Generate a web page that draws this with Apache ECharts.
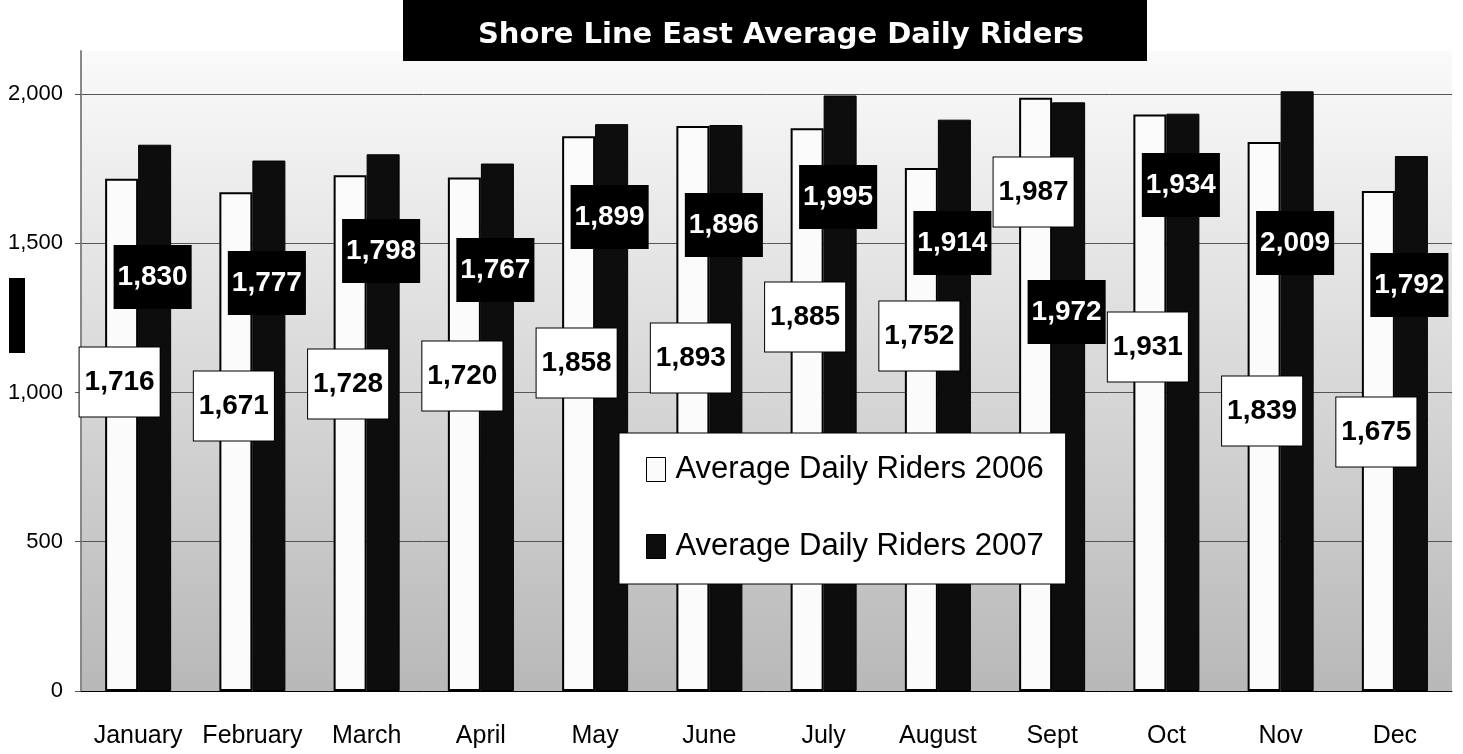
<!DOCTYPE html>
<html>
<head>
<meta charset="utf-8">
<title>Shore Line East Average Daily Riders</title>
<script src="https://cdn.jsdelivr.net/npm/echarts@6/dist/echarts.min.js"></script>
<style>
    html, body { margin: 0; padding: 0; background: #fff; }
    #main { width: 1463px; height: 754px; }
</style>
</head>
<body>
<div id="main"></div>
<script>
// 月份 (x轴)
var months = ['January', 'February', 'March', 'April', 'May', 'June', 'July', 'August', 'Sept', 'Oct', 'Nov', 'Dec'];
// series names
var seriesNames = ['Average Daily Riders 2006', 'Average Daily Riders 2007'];
// average daily riders per month
var riders2006 = [1716, 1671, 1728, 1720, 1858, 1893, 1885, 1752, 1987, 1931, 1839, 1675];
var riders2007 = [1830, 1777, 1798, 1767, 1899, 1896, 1995, 1914, 1972, 1934, 2009, 1792];
// y轴刻度
var yTicks = [0, 500, 1000, 1500, 2000];

// the value boxes were dragged around by hand in the original, keep their centre (px)
var labelY2006 = [382, 406, 384, 376, 363, 358, 317, 336, 192, 347, 411, 432];
var labelY2007 = [277, 283, 251, 270, 217, 225, 197, 243, 312, 185, 243, 285];

var sans = "'Liberation Sans', Arial, sans-serif";

window.onload = function () {
    var myChart = echarts.init(document.getElementById('main'));

    var option = {
        animation: false,
        backgroundColor: '#fff',
        title: {
            text: 'Shore Line East Average Daily Riders',
            left: 776,
            top: 16,
            textAlign: 'center',
            textStyle: {
                color: '#fff',
                fontFamily: "'DejaVu Sans', sans-serif",
                fontWeight: 'bold',
                fontSize: 29
            }
        },
        graphic: [
            {   // 标题黑框
                type: 'rect', left: 403, top: 0, z: 1,
                shape: { width: 744, height: 61 },
                style: { fill: '#000' }
            },
            {   // y轴名称黑块
                type: 'rect', left: 9, top: 278, z: 1,
                shape: { width: 16, height: 75 },
                style: { fill: '#000' }
            }
        ],
        legend: {
            orient: 'vertical',
            left: 619,
            top: 433,
            padding: [21, 22, 22, 27],
            itemGap: 46,
            itemWidth: 19,
            itemHeight: 24,
            icon: 'rect',
            backgroundColor: '#fff',
            borderColor: '#000',
            borderWidth: 1,
            itemStyle: { borderWidth: 1, borderColor: '#000' },
            textStyle: { fontFamily: sans, fontSize: 31, color: '#000', padding: [0, 0, 0, 5] },
            data: seriesNames
        },
        grid: {
            left: 81,
            right: 11,
            top: 51,
            bottom: 63,
            containLabel: false,
            outerBoundsMode: 'none',
            show: true,
            borderWidth: 0,
            backgroundColor: new echarts.graphic.LinearGradient(0, 0, 0, 1, [
                { offset: 0, color: '#fafafa' },
                { offset: 1, color: '#b8b8b8' }
            ])
        },
        xAxis: {
            type: 'category',
            data: months,
            axisLine: { lineStyle: { color: '#000', width: 1 } },
            axisTick: { length: 11, lineStyle: { color: '#555' } },
            axisLabel: { interval: 0, fontFamily: sans, fontSize: 25, color: '#000', margin: 33 }
        },
        yAxis: {
            type: 'value',
            min: 0,
            max: 2144,
            interval: 500,
            axisLine: { show: true, lineStyle: { color: '#888', width: 2 } },
            axisTick: { show: true, length: 6, lineStyle: { color: '#555' } },
            axisLabel: {
                fontFamily: sans, fontSize: 22, color: '#000', margin: 18,
                showMaxLabel: false,
                formatter: function (v) {
                    return yTicks.indexOf(v) > -1 ? echarts.format.addCommas(v) : '';
                }
            },
            splitLine: { showMaxLine: false, lineStyle: { color: '#555', width: 1 } }
        },
        series: [
            {
                name: seriesNames[0],
                type: 'bar',
                barWidth: 33,
                barGap: '0%',
                data: riders2006,
                itemStyle: { color: '#fbfbfb', borderColor: '#000', borderWidth: 2 },
                label: {
                    show: true,
                    position: 'inside',
                    formatter: function (p) { return echarts.format.addCommas(p.value); },
                    fontFamily: sans, fontWeight: 'bold', fontSize: 28, lineHeight: 28,
                    color: '#000',
                    backgroundColor: '#fff',
                    borderColor: '#000',
                    borderWidth: 1,
                    padding: [20, 5, 21, 5]
                }
            },
            {
                name: seriesNames[1],
                type: 'bar',
                barWidth: 33,
                barGap: '0%',
                data: riders2007,
                itemStyle: { color: '#0d0d0d', borderColor: '#000', borderWidth: 1 },
                label: {
                    show: true,
                    position: 'inside',
                    formatter: function (p) { return echarts.format.addCommas(p.value); },
                    fontFamily: sans, fontWeight: 'bold', fontSize: 28, lineHeight: 28,
                    color: '#fff',
                    backgroundColor: '#000',
                    padding: [18, 4, 18, 4]
                }
            }
        ]
    };
    myChart.setOption(option);

    // 把标签挪到原图的位置
    function moveLabels(values, ys) {
        return values.map(function (v, i) {
            var top = myChart.convertToPixel({ gridIndex: 0 }, [i, v])[1];
            var base = myChart.convertToPixel({ gridIndex: 0 }, [i, 0])[1];
            return { value: v, label: { offset: [-2, ys[i] - (top + base) / 2] } };
        });
    }
    myChart.setOption({
        series: [
            { data: moveLabels(riders2006, labelY2006) },
            { data: moveLabels(riders2007, labelY2007) }
        ]
    });

    window.onresize = function () {
        myChart.resize();
    };
};
</script>
</body>
</html>
